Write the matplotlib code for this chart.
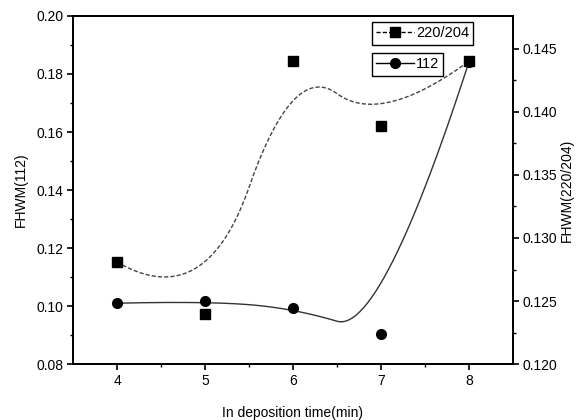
import numpy as np
import matplotlib.pyplot as plt

plt.rcParams['font.family'] = ['Liberation Sans', 'DejaVu Sans']

time_min = [4, 5, 6, 7, 8]
fhwm_112 = [0.101, 0.1017, 0.0993, 0.0903, 0.184]
fhwm_220 = [0.1281, 0.1240, 0.1440, 0.1389, 0.1440]


def bspline2(xs, ys, n=60):
    # clamped uniform quadratic B-spline, data points used as control points
    P = np.column_stack([xs, ys]).astype(float)
    k = len(P)
    mids = (P[1:] + P[:-1]) / 2
    out = []
    for i in range(1, k - 1):
        a = P[0] if i == 1 else mids[i - 1]
        b = P[i]
        c = P[-1] if i == k - 2 else mids[i]
        s = np.linspace(0, 1, n)[:, None]
        out.append((1 - s) ** 2 * a + 2 * s * (1 - s) * b + s ** 2 * c)
    out = np.vstack(out)
    return out[:, 0], out[:, 1]


fig = plt.figure(figsize=(5.8, 4.2), dpi=100)
ax = fig.add_axes([0.126, 0.133, 0.758, 0.829])
ax2 = ax.twinx()

cx, cy = bspline2(time_min, fhwm_112)
ax.plot(cx, cy, '-', color='#333333', lw=1.0)
ax.plot(time_min, fhwm_112, 'o', color='black', ms=7)

sx, sy = bspline2(time_min, fhwm_220)
ax2.plot(sx, sy, '--', color='#444444', lw=1.0, dashes=(3, 1.5))
ax2.plot(time_min, fhwm_220, 's', color='black', ms=6.5)

ax.set_xlim(3.5, 8.5)
ax.set_ylim(0.08, 0.20)
ax2.set_ylim(0.120, 0.1476)
ax.set_xticks([4, 5, 6, 7, 8])
ax.set_xticks([4.5, 5.5, 6.5, 7.5], minor=True)
ax.set_yticks(np.arange(0.08, 0.201, 0.02))
ax.set_yticks(np.arange(0.09, 0.20, 0.02), minor=True)
ax.yaxis.set_major_formatter(plt.FormatStrFormatter('%.2f'))
ax2.set_yticks(np.arange(0.120, 0.1451, 0.005))
ax2.set_yticks(np.arange(0.1225, 0.146, 0.005), minor=True)
ax2.yaxis.set_major_formatter(plt.FormatStrFormatter('%.3f'))

for a in (ax, ax2):
    a.tick_params(direction='out', which='major', length=4, width=1.2, labelsize=10, pad=3)
    a.tick_params(direction='out', which='minor', length=2.5, width=1.0)
    for sp in a.spines.values():
        sp.set_linewidth(1.3)

ax.set_xlabel('In deposition time(min)', fontsize=10, labelpad=13)
ax.set_ylabel('FHWM(112)', fontsize=10, labelpad=6)
ax2.set_ylabel('FHWM(220/204)', fontsize=10, labelpad=2)

h1, = ax2.plot([], [], '--s', color='black', ms=6.5, lw=1.0, dashes=(3, 1.5))
h2, = ax.plot([], [], '-o', color='black', ms=7, lw=1.0)
leg_kw = dict(loc='upper left', fancybox=False, edgecolor='black', fontsize=10.5,
              handlelength=2.6, borderpad=0.3, handletextpad=0.1,
              borderaxespad=0, framealpha=1)
leg1 = ax2.legend([h1], ['220/204'], bbox_to_anchor=(0.68, 0.983), **leg_kw)
leg1.get_frame().set_linewidth(1.0)
ax2.add_artist(leg1)
leg2 = ax2.legend([h2], ['112'], bbox_to_anchor=(0.68, 0.894), **leg_kw)
leg2.get_frame().set_linewidth(1.0)

fig.savefig('out.png', dpi=100)
